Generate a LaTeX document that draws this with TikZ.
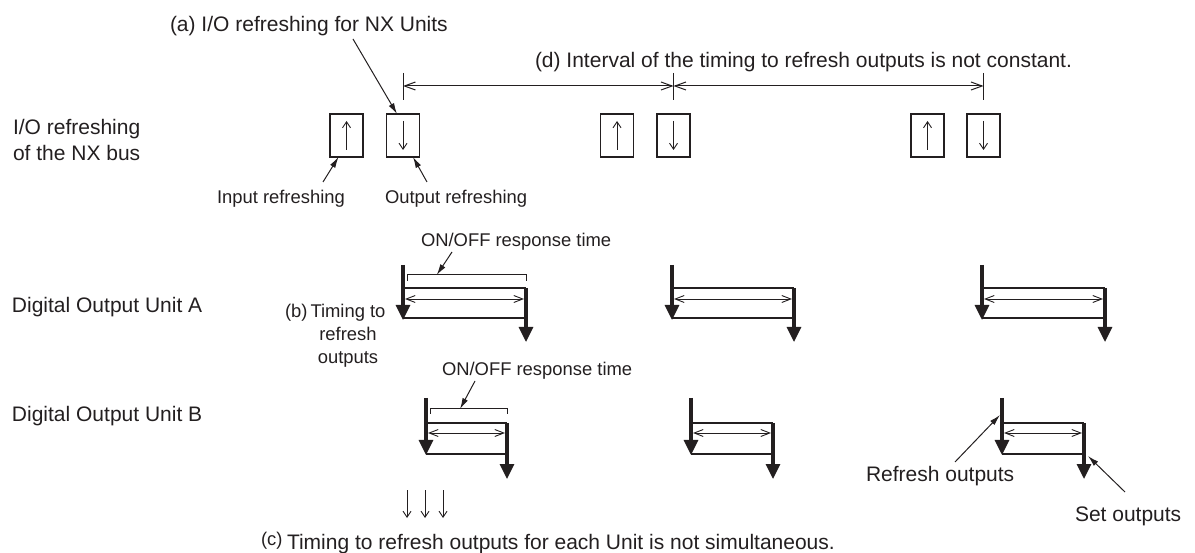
\documentclass[tikz,border=0pt]{standalone}
\usepackage{fontspec}
\setmainfont{Liberation Sans}
\usetikzlibrary{arrows.meta}
\definecolor{ink}{RGB}{35,31,32}
\begin{document}
\begin{tikzpicture}[x=1pt,y=-1pt,
  every node/.style={inner sep=0pt,outer sep=0pt,text=ink},
  big/.style={font=\fontsize{21}{26}\selectfont},
  small/.style={font=\fontsize{18.4}{23}\selectfont},
  iobox/.style={draw=ink,line width=1.8pt,minimum width=33pt,minimum height=43pt},
  thinarrow/.style={draw=ink,line width=0.9pt,-{Straight Barb[length=6pt,width=8pt]}},
  leader/.style={draw=ink,line width=1pt,-{Latex[length=11pt,width=6pt]}},
  thickarrow/.style={draw=ink,line width=3.2pt,-{Triangle[length=15pt,width=14pt]}},
  pulse/.style={draw=ink,line width=2.2pt},
  dim/.style={draw=ink,line width=1pt,{Straight Barb[length=11pt,width=8pt]}-{Straight Barb[length=11pt,width=8pt]}},
  dbl/.style={draw=ink,line width=0.9pt,{Straight Barb[length=9pt,width=7pt]}-{Straight Barb[length=9pt,width=7pt]}},
  tick/.style={draw=ink,line width=1pt},
]
\useasboundingbox (0,0) rectangle (1195,553);

% ---------- left labels ----------
\node[big,anchor=base west,align=left] (lbus) at (13,161) {I/O refreshing\\of the NX bus};
\node[big,anchor=base west] (lunitA) at (12,313) {Digital Output Unit A};
\node[big,anchor=base west] (lunitB) at (12,421) {Digital Output Unit B};

% ---------- NX bus refresh boxes ----------
\foreach \n/\xi/\xo in {1/346.5/403, 2/617/673.5, 3/927.5/983.5}{
  \node[iobox] (in\n) at (\xi,135.5) {};
  \node[iobox] (out\n) at (\xo,135.5) {};
  \draw[thinarrow] ([yshift=7pt]in\n.south) -- ([yshift=-7pt]in\n.north);
  \draw[thinarrow] ([yshift=-7pt]out\n.north) -- ([yshift=7pt]out\n.south);
}

% ---------- (a) ----------
\node[big,anchor=base west] (la) at (170,32) {(a) I/O refreshing for NX Units};
\coordinate (la-s) at (353,39);
\draw[leader] (la-s) -- ([xshift=-6pt]out1.north);

% ---------- input / output refreshing labels ----------
\node[small,anchor=base west] (linp) at (217,204) {Input refreshing};
\node[small,anchor=base west] (lout) at (385,204) {Output refreshing};
\coordinate (linp-s) at (323,182);
\coordinate (lout-s) at (427,182);
\draw[leader] (linp-s) -- ([xshift=-8pt]in1.south);
\draw[leader] (lout-s) -- ([xshift=10pt]out1.south);

% ---------- (d) interval ----------
\node[big,anchor=base west] (ld) at (535,68) {(d) Interval of the timing to refresh outputs is not constant.};
\foreach \n/\x in {1/403, 2/673.5, 3/983.5}{
  \coordinate (t\n) at (\x,86);
  \draw[tick] (\x,73) -- (\x,100);
}
\draw[dim] (t1) -- (t2);
\draw[dim] (t2) -- (t3);

% ---------- pulses ----------
\foreach \n/\xa/\xb/\yt/\yh/\yd/\yl/\ytl/\ytr in {
  A1/403/526/265/288/299/318/320/342,
  A2/672/794/265/288/299/318/320/342,
  A3/982/1105/265/288/299/318/320/342,
  B1/426/507/398/423/433/454/455/479,
  B2/691/773/398/423/433/454/455/479,
  B3/1002/1084/398/423/433/454/455/479}{
  \coordinate (\n-top) at (\xa,\yt);
  \coordinate (\n-lh) at (\xa,\yh);
  \coordinate (\n-rh) at (\xb,\yh);
  \coordinate (\n-ll) at (\xa,\yl);
  \coordinate (\n-rl) at (\xb,\yl);
  \coordinate (\n-tipl) at (\xa,\ytl);
  \coordinate (\n-tipr) at (\xb,\ytr);
  \coordinate (\n-dl) at (\xa+2,\yd);
  \coordinate (\n-dr) at (\xb-2,\yd);
  \draw[pulse] (\n-lh) -- (\n-rh);
  \draw[pulse,line width=1.8pt] (\n-ll) -- (\n-rl);
  \draw[dbl] (\n-dl) -- (\n-dr);
  \draw[thickarrow] (\n-top) -- (\n-tipl);
  \draw[thickarrow] (\n-rh) -- (\n-tipr);
}

% ---------- ON/OFF response time brackets ----------
\draw[tick] (407,281) -- (407,275) -- coordinate[pos=0.25] (brA) (526,275) -- (526,281);
\draw[tick] (430,414) -- (430,409) -- coordinate[pos=0.39] (brB) (507,409) -- (507,414);
\node[small,anchor=base west] (onA) at (421,247) {ON/OFF response time};
\node[small,anchor=base west] (onB) at (442,376) {ON/OFF response time};
\coordinate (onA-s) at (452,252);
\coordinate (onB-s) at (475,381);
\draw[leader] (onA-s) -- (brA);
\draw[leader] (onB-s) -- (brB);

% ---------- (b) ----------
\node[small,anchor=base west] (lb) at (285,318) {(b)};
\node[small,anchor=base,align=center] (lbt) at (348,364) {Timing to\\refresh\\outputs};

% ---------- (c) ----------
\foreach \n/\x in {1/407, 2/425, 3/443}{
  \coordinate (c\n-a) at (\x,490);
  \coordinate (c\n-b) at (\x,518);
  \draw[thinarrow] (c\n-a) -- (c\n-b);
}
\node[small,anchor=base west] (lc) at (261,545) {(c)};
\node[big,anchor=base west] (lct) at (287,549) {Timing to refresh outputs for each Unit is not simultaneous.};

% ---------- refresh / set outputs ----------
\node[big,anchor=base west] (lref) at (866,482) {Refresh outputs};
\node[big,anchor=base west] (lset) at (1075,521) {Set outputs};
\coordinate (lref-s) at (955,462);
\coordinate (lset-s) at (1125,492);
\coordinate (B3-ref) at (1000,415);
\coordinate (B3-set) at (1088,456);
\draw[leader] (lref-s) -- (B3-ref);
\draw[leader] (lset-s) -- (B3-set);
\end{tikzpicture}
\end{document}
